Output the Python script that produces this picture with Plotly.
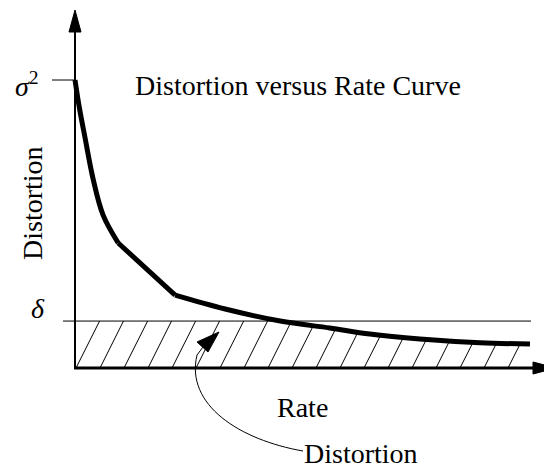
import numpy as np
import plotly.graph_objects as go

# ---- data (rate in arbitrary units, distortion normalised so sigma^2 = 1) ----
rate = [0.0, 0.10, 0.22, 0.40, 0.62, 0.95, 1.58, 2.20, 3.30, 4.51, 5.60, 6.48, 7.58, 8.90, 10.0]
distortion = [1.0, 0.90, 0.80, 0.655, 0.530, 0.434, 0.340, 0.253, 0.205, 0.163, 0.139, 0.118,
              0.101, 0.088, 0.083]
sigma2 = 1.0
delta = 0.163
rate_max = 10.0
knee_a, knee_b = 5, 7   # indices where the curve has visible corners

# ---- layout geometry ----
W, H = 544, 468
PX_PER_X = 45.5      # pixels per rate unit
PX_PER_Y = 288.0     # pixels per distortion unit
X0_PX, Y0_PX = 75, 368  # pixel location of origin
xr = [-X0_PX / PX_PER_X, (W - X0_PX) / PX_PER_X]
yr = [-(H - Y0_PX) / PX_PER_Y, Y0_PX / PX_PER_Y]


def px(xp):
    return xp / W


def py(yp):
    return 1 - yp / H


FONT = "Liberation Serif, Times New Roman, serif"
FS = 28

fig = go.Figure()

# ---- hatching under min(delta, curve) ----
hatch_slope = 2.0 * PX_PER_X / PX_PER_Y  # steep hatch (2 px up per px right)
spacing = 24 / PX_PER_X
xs_dense = np.linspace(0, rate_max, 2000)
top_dense = np.minimum(delta, np.interp(xs_dense, rate, distortion))
hx, hy = [], []
start = (76 - X0_PX) / PX_PER_X
for k in range(-3, 40):
    xb = start + k * spacing
    if xb > rate_max:
        break
    xa = max(xb, 0.0)
    ya = (xa - xb) * hatch_slope
    if ya >= np.interp(xa, xs_dense, top_dense):
        continue
    seg = xs_dense[xs_dense >= xa]
    if len(seg) == 0:
        continue
    yline = (seg - xb) * hatch_slope
    tops = np.interp(seg, xs_dense, top_dense)
    idx = np.where(yline >= tops)[0]
    if len(idx) > 0:
        xe = seg[idx[0]]
        ye = tops[idx[0]]
    else:
        xe = rate_max
        ye = (xe - xb) * hatch_slope
    hx += [xa, xe, None]
    hy += [ya, ye, None]

fig.add_trace(go.Scatter(x=hx, y=hy, mode="lines",
                         line=dict(color="black", width=1), hoverinfo="skip",
                         showlegend=False))

# delta line
fig.add_trace(go.Scatter(x=[(63 - X0_PX) / PX_PER_X, (531 - X0_PX) / PX_PER_X],
                         y=[delta, delta], mode="lines",
                         line=dict(color="black", width=1), showlegend=False))
# sigma^2 tick
fig.add_trace(go.Scatter(x=[(52 - X0_PX) / PX_PER_X, 0], y=[sigma2, sigma2], mode="lines",
                         line=dict(color="black", width=1), showlegend=False))

# the distortion-rate curve: smooth pieces joined at two corners
pieces = [(0, knee_a, "spline"), (knee_a, knee_b, "linear"), (knee_b, len(rate) - 1, "spline")]
for i0, i1, shp in pieces:
    fig.add_trace(go.Scatter(x=rate[i0:i1 + 1], y=distortion[i0:i1 + 1], mode="lines",
                             line=dict(color="black", width=5, shape=shp, smoothing=1.0),
                             showlegend=False))

shapes = []
# y axis
shapes.append(dict(type="line", xref="paper", yref="paper",
                   x0=px(75), y0=py(369), x1=px(75), y1=py(30),
                   line=dict(color="black", width=2)))
shapes.append(dict(type="path", xref="paper", yref="paper",
                   path=f"M {px(75)} {py(10)} L {px(69)} {py(32)} L {px(81)} {py(32)} Z",
                   fillcolor="black", line=dict(color="black", width=1)))
# x axis
shapes.append(dict(type="line", xref="paper", yref="paper",
                   x0=px(74), y0=py(368), x1=px(535), y1=py(368),
                   line=dict(color="black", width=3)))
shapes.append(dict(type="path", xref="paper", yref="paper",
                   path=f"M {px(556)} {py(368)} L {px(533)} {py(362)} L {px(533)} {py(374)} Z",
                   fillcolor="black", line=dict(color="black", width=1)))
# curved pointer
shapes.append(dict(type="path", xref="paper", yref="paper",
                   path=(f"M {px(303)} {py(451)} C {px(240)} {py(440)} {px(185)} {py(405)} "
                         f"{px(197)} {py(355)} L {px(203)} {py(347)}"),
                   line=dict(color="black", width=1)))
shapes.append(dict(type="path", xref="paper", yref="paper",
                   path=f"M {px(219)} {py(332)} L {px(197)} {py(342)} L {px(208)} {py(352)} Z",
                   fillcolor="black", line=dict(color="black", width=1)))

annotations = [
    dict(text="Distortion versus Rate Curve", x=px(298), y=py(85), xref="paper", yref="paper",
         showarrow=False, font=dict(size=FS, family=FONT, color="black"), xanchor="center", yanchor="middle"),
    dict(text="Distortion", x=px(32), y=py(203), xref="paper", yref="paper", textangle=-90,
         showarrow=False, font=dict(size=FS, family=FONT, color="black"), xanchor="center", yanchor="middle"),
    dict(text="Rate", x=px(302), y=py(407), xref="paper", yref="paper",
         showarrow=False, font=dict(size=FS, family=FONT, color="black"), xanchor="center", yanchor="middle"),
    dict(text="Distortion", x=px(361), y=py(453), xref="paper", yref="paper",
         showarrow=False, font=dict(size=FS, family=FONT, color="black"), xanchor="center", yanchor="middle"),
    dict(text="<i>σ</i><sup>2</sup>", x=px(27), y=py(84), xref="paper", yref="paper",
         showarrow=False, font=dict(size=FS, family=FONT, color="black"), xanchor="center", yanchor="middle"),
    dict(text="<i>δ</i>", x=px(38), y=py(308), xref="paper", yref="paper",
         showarrow=False, font=dict(size=FS, family=FONT, color="black"), xanchor="center", yanchor="middle"),
]

fig.update_layout(
    width=W, height=H, margin=dict(l=0, r=0, t=0, b=0),
    paper_bgcolor="white", plot_bgcolor="white",
    xaxis=dict(range=xr, visible=False, fixedrange=True),
    yaxis=dict(range=yr, visible=False, fixedrange=True),
    shapes=shapes, annotations=annotations, showlegend=False,
)

fig.write_html("out.html", config={"displayModeBar": False},
               post_script="document.body.style.margin='0';document.body.style.overflow='hidden';")
